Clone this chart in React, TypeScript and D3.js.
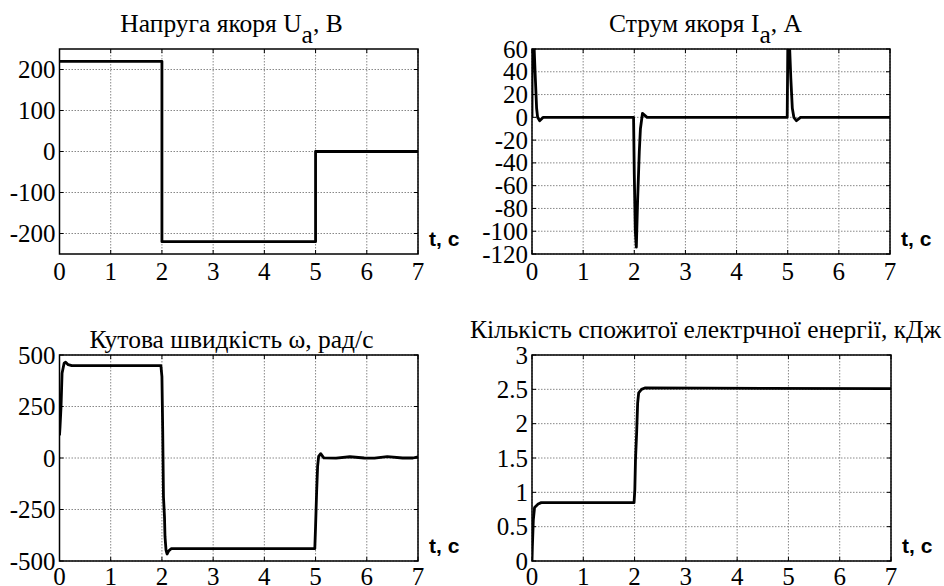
import React from 'react';
import * as d3 from 'd3';

// time axis shared by all four panels
const tTicks = [0, 1, 2, 3, 4, 5, 6, 7];

// armature voltage, V
const voltageT = [0, 2, 2, 5, 5, 7];
const voltageV = [220, 220, -220, -220, 0, 0];
const voltageTicks = [-200, -100, 0, 100, 200];

// armature current, A
const currentT = [0, 0.005, 0.03, 0.06, 0.09, 0.11, 0.15, 0.22, 1.986, 2.0, 2.02, 2.04, 2.065, 2.098, 2.12, 2.16, 2.25, 4.99, 5.005, 5.03, 5.06, 5.09, 5.12, 5.17, 5.25, 7];
const currentV = [0, 80, 75, 40, 8, 0, -3, 0, 0, -50, -100, -114, -73, -30, -10, 3.5, 0, 0, 80, 70, 35, 8, 0, -3, 0, 0];
const currentTicks = [-120, -100, -80, -60, -40, -20, 0, 20, 40, 60];

// angular speed, rad/s
const speedT = [0, 0.01, 0.03, 0.05, 0.09, 0.12, 0.17, 0.24, 1.98, 2.0, 2.015, 2.03, 2.05, 2.06, 2.08, 2.1, 2.13, 2.18, 4.985, 5.0, 5.02, 5.04, 5.06, 5.1, 5.16, 5.4, 5.67, 5.95, 6.15, 6.4, 6.7, 6.9, 7];
const speedV = [110, 150, 249, 411, 460, 465, 453, 448, 448, 395, 136, -188, -285, -382, -447, -466, -452, -440, -440, -332, -170, -40, 8, 21, 1, -1, 6, 0, -1, 7, 0, 0, 5];
const speedTicks = [-500, -250, 0, 250, 500];

// consumed electric energy, kJ
const energyT = [0, 0.007, 0.026, 0.05, 0.12, 0.18, 1.99, 2.005, 2.018, 2.04, 2.06, 2.08, 2.135, 2.2, 7];
const energyV = [0, 0.2, 0.6, 0.78, 0.83, 0.85, 0.85, 1.04, 1.48, 1.86, 2.3, 2.45, 2.5, 2.52, 2.51];
const energyTicks = [0, 0.5, 1, 1.5, 2, 2.5, 3];

type Box = { x0: number; x1: number; y0: number; y1: number };

const Panel = ({ id, box, yDomain, yTicks, ts, vs, title, titleX, titleY }: any) => {
  const b: Box = box;
  const x = d3.scaleLinear().domain([0, 7]).range([b.x0, b.x1]);
  const y = d3.scaleLinear().domain(yDomain).range([b.y1, b.y0]);
  const pts = ts.map((t: number, i: number) => [t, vs[i]]);
  const line = d3.line<number[]>().x(d => x(d[0])).y(d => y(d[1]));
  const tickLen = 4;
  // bottom row: the reference crops these labels at the page edge, keep them just inside
  const labelY = Math.min(b.y1 + 26, 585);

  return (
    <g>
      <defs>
        <clipPath id={`clip-${id}`}>
          <rect x={b.x0} y={b.y0} width={b.x1 - b.x0} height={b.y1 - b.y0} />
        </clipPath>
      </defs>
      {/* grid */}
      {tTicks.map(t => (
        <line key={`gx${t}`} x1={x(t)} x2={x(t)} y1={b.y0} y2={b.y1}
          stroke="#888" strokeWidth={1} strokeDasharray="1.5 1.5" />
      ))}
      {yTicks.map((v: number) => (
        <line key={`gy${v}`} x1={b.x0} x2={b.x1} y1={y(v)} y2={y(v)}
          stroke="#888" strokeWidth={1} strokeDasharray="1.5 1.5" />
      ))}
      {/* inward tick marks */}
      {tTicks.map(t => (
        <g key={`tx${t}`}>
          <line x1={x(t)} x2={x(t)} y1={b.y1} y2={b.y1 - tickLen} stroke="#000" />
          <line x1={x(t)} x2={x(t)} y1={b.y0} y2={b.y0 + tickLen} stroke="#000" />
        </g>
      ))}
      {yTicks.map((v: number) => (
        <g key={`ty${v}`}>
          <line x1={b.x0} x2={b.x0 + tickLen} y1={y(v)} y2={y(v)} stroke="#000" />
          <line x1={b.x1} x2={b.x1 - tickLen} y1={y(v)} y2={y(v)} stroke="#000" />
        </g>
      ))}
      {/* data */}
      <path d={line(pts) || ''} fill="none" stroke="#000" strokeWidth={2.8}
        strokeLinejoin="round" clipPath={`url(#clip-${id})`} />
      {/* frame */}
      <rect x={b.x0} y={b.y0} width={b.x1 - b.x0} height={b.y1 - b.y0}
        fill="none" stroke="#000" strokeWidth={1.5} />
      {/* tick labels */}
      <g style={{ fontFamily: 'Liberation Serif', fontSize: '25px' }}>
        {tTicks.map(t => (
          <text key={`lx${t}`} x={x(t)} y={labelY} textAnchor="middle">{t}</text>
        ))}
        {yTicks.map((v: number) => (
          <text key={`ly${v}`} x={b.x0 - 4} y={y(v)} dy="0.34em" textAnchor="end">{String(v)}</text>
        ))}
      </g>
      <text x={b.x1 + 11} y={b.y1 - 8}
        style={{ fontFamily: 'Liberation Sans', fontWeight: 700, fontSize: '21px' }}>t, c</text>
      <text x={titleX} y={titleY} textAnchor="middle"
        style={{ fontFamily: 'Liberation Serif', fontSize: '25.5px' }}>
        {title}
      </text>
    </g>
  );
};

export default function App() {
  return (
    <svg width={944} height={586} style={{ position: 'absolute', left: 0, top: 0, background: '#fff' }}>
      <rect width={944} height={586} fill="#fff" />
      <Panel id="u" box={{ x0: 59.5, x1: 418, y0: 49, y1: 254 }} yDomain={[-250, 250]}
        yTicks={voltageTicks} ts={voltageT} vs={voltageV} titleX={231.5} titleY={32}
        title={<>
          <tspan>Напруга якоря U</tspan>
          <tspan dy={11}>a</tspan>
          <tspan dy={-11}>, В</tspan>
        </>} />
      <Panel id="i" box={{ x0: 532, x1: 890, y0: 49, y1: 254 }} yDomain={[-120, 60]}
        yTicks={currentTicks} ts={currentT} vs={currentV} titleX={705.5} titleY={32}
        title={<>
          <tspan>Струм якоря I</tspan>
          <tspan dy={11}>a</tspan>
          <tspan dy={-11}>, А</tspan>
        </>} />
      <Panel id="w" box={{ x0: 59.5, x1: 418, y0: 355, y1: 561 }} yDomain={[-500, 500]}
        yTicks={speedTicks} ts={speedT} vs={speedV} titleX={231.5} titleY={348}
        title="Кутова швидкість ω, рад/с" />
      <Panel id="e" box={{ x0: 532, x1: 891, y0: 355, y1: 561 }} yDomain={[0, 3]}
        yTicks={energyTicks} ts={energyT} vs={energyV} titleX={705.5} titleY={338}
        title="Кількість спожитої електрчної енергії, кДж" />
    </svg>
  );
}
